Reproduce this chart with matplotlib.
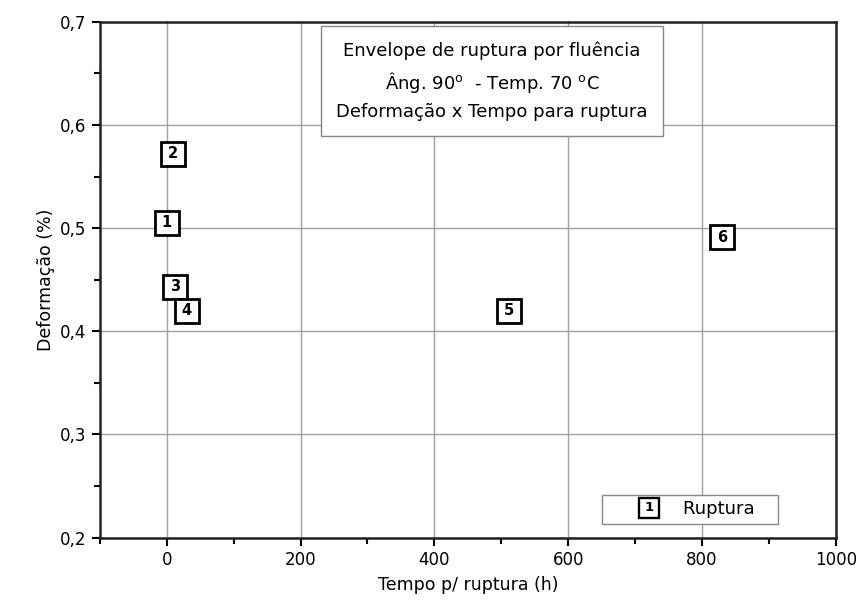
import matplotlib
matplotlib.use('Agg')
import matplotlib.pyplot as plt
from matplotlib.lines import Line2D
from matplotlib.text import Text
from matplotlib.legend_handler import HandlerBase
from matplotlib.ticker import MultipleLocator, FuncFormatter

# tempo para ruptura (h) x deformacao (%)
labels = ['1', '2', '3', '4', '5', '6']
tempo = [0, 10, 12, 30, 512, 830]
deform = [0.505, 0.572, 0.443, 0.420, 0.420, 0.491]

plt.rcParams['font.family'] = ['DejaVu Sans']


class NumberedBox(HandlerBase):
    def create_artists(self, legend, orig_handle, xdescent, ydescent,
                       width, height, fontsize, trans):
        cx = width * 0.76 - xdescent
        cy = height / 2 - ydescent
        box = Line2D([cx], [cy], marker='s', markersize=14, mfc='white',
                     mec='black', mew=1.7, linestyle='none', transform=trans)
        txt = Text(cx, cy, '1', ha='center', va='center', fontsize=9.5,
                   fontweight='bold', transform=trans)
        return [box, txt]


fig, ax = plt.subplots(figsize=(8.6, 6.06), dpi=100)
fig.subplots_adjust(left=0.116, right=0.972, top=0.964, bottom=0.113)

ax.plot(tempo, deform, linestyle='none', marker='s', markersize=17,
        mfc='white', mec='black', mew=2.0, zorder=3)
for lab, x, y in zip(labels, tempo, deform):
    ax.text(x, y, lab, ha='center', va='center', fontsize=10.5,
            fontweight='bold', zorder=4)

ax.set_xlim(-100, 1000)
ax.set_ylim(0.2, 0.7)
ax.xaxis.set_major_locator(MultipleLocator(200))
ax.xaxis.set_minor_locator(MultipleLocator(100))
ax.yaxis.set_major_locator(MultipleLocator(0.1))
ax.yaxis.set_minor_locator(MultipleLocator(0.05))
ax.yaxis.set_major_formatter(FuncFormatter(lambda v, p: ('%.1f' % v).replace('.', ',')))

ax.grid(True, which='major', color='#a0a0a0', linewidth=1.0)
ax.set_axisbelow(True)
ax.tick_params(which='major', direction='out', length=6, width=1.5, labelsize=12)
ax.tick_params(which='minor', direction='out', length=4, width=1.5)
for s in ax.spines.values():
    s.set_linewidth(1.8)
    s.set_color('#222222')

ax.set_xlabel('Tempo p/ ruptura (h)', fontsize=12.5, labelpad=5)
ax.set_ylabel('Deformação (%)', fontsize=12.5)

ax.text(0.533, 0.885,
        'Envelope de ruptura por fluência\n'
        'Âng. 90$^{\\mathrm{o}}$  - Temp. 70 $^{\\mathrm{o}}$C\n'
        'Deformação x Tempo para ruptura',
        transform=ax.transAxes, ha='center', va='center', fontsize=13,
        linespacing=1.55,
        bbox=dict(boxstyle='square,pad=0.85', fc='white', ec='#888888', lw=1))

h = Line2D([], [], marker='s')
ax.legend([h], ['Ruptura   '], handler_map={Line2D: NumberedBox()},
          loc='lower right', bbox_to_anchor=(0.921, 0.027), fontsize=13,
          fancybox=False, framealpha=1, edgecolor='#888888',
          handlelength=3.0, handletextpad=1.2, borderpad=0.3,
          borderaxespad=0)

fig.savefig('out.png', dpi=100)
